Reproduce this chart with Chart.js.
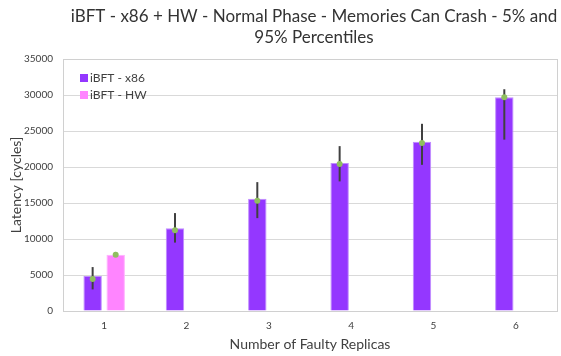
<!DOCTYPE html>
<html>
<head>
<meta charset="utf-8">
<script src="https://cdn.jsdelivr.net/npm/chart.js@4/dist/chart.umd.min.js"></script>
<style>
  html, body { margin: 0; padding: 0; background: #fff; }
  #wrap { width: 561px; height: 356px; }
</style>
</head>
<body>
<div id="wrap"><canvas id="latencyChart" width="561" height="356"></canvas></div>
<script>
// datos
const replicas = ['1', '2', '3', '4', '5', '6'];
const x86Mean = [4850, 11500, 15600, 20550, 23500, 29700];
const x86Low = [3000, 9500, 12900, 18000, 20300, 23800];
const x86High = [6100, 13600, 17900, 22900, 26000, 30800];
const x86Median = [4450, 11200, 15300, 20400, 23350, 29700];
const hwMean = [7800, null, null, null, null, null];
const hwLow = [7700, null, null, null, null, null];
const hwHigh = [8200, null, null, null, null, null];
const hwMedian = [7800, null, null, null, null, null];
const yTicks = [0, 5000, 10000, 15000, 20000, 25000, 30000, 35000];
const titleLines = ['iBFT - x86 + HW - Normal Phase - Memories Can Crash - 5% and', '95% Percentiles'];
const xTitle = 'Number of Faulty Replicas';

const fontName = "Lato, 'Open Sans', sans-serif";

// barras de error + punto verde (mediana)
const errorBarsPlugin = {
    id: 'errorBars',
    afterDatasetsDraw(chart) {
        const ctx = chart.ctx;
        const yScale = chart.scales.y;
        const sets = [
            { low: x86Low, high: x86High, med: x86Median },
            { low: hwLow, high: hwHigh, med: hwMedian }
        ];
        sets.forEach((s, di) => {
            const meta = chart.getDatasetMeta(di);
            meta.data.forEach((bar, i) => {
                if (s.low[i] == null) return;
                const x = bar.x;
                ctx.save();
                ctx.strokeStyle = '#404040';
                ctx.lineWidth = 2;
                ctx.beginPath();
                ctx.moveTo(x, yScale.getPixelForValue(s.high[i]));
                ctx.lineTo(x, yScale.getPixelForValue(s.low[i]));
                ctx.stroke();
                ctx.fillStyle = '#8fbf5f';
                ctx.beginPath();
                ctx.arc(x, yScale.getPixelForValue(s.med[i]), 3, 0, Math.PI * 2);
                ctx.fill();
                ctx.restore();
            });
        });
    }
};

// marco, titulos y leyenda dentro del grafico
const frameLegendPlugin = {
    id: 'frameLegend',
    afterDraw(chart) {
        const ctx = chart.ctx;
        const a = chart.chartArea;
        ctx.save();
        ctx.strokeStyle = '#d0d0d0';
        ctx.lineWidth = 1;
        ctx.strokeRect(Math.round(a.left) + 0.5, Math.round(a.top) + 0.5,
            Math.round(a.right - a.left), Math.round(a.bottom - a.top));

        // titulo centrado sobre el area del grafico
        ctx.fillStyle = '#333333';
        ctx.font = '17px ' + fontName;
        ctx.textAlign = 'center';
        ctx.textBaseline = 'middle';
        const cx = (a.left + a.right) / 2 + 4;
        titleLines.forEach((t, i) => ctx.fillText(t, cx, 17 + i * 21));

        // titulo del eje x
        ctx.fillStyle = '#404040';
        ctx.font = '14px ' + fontName;
        ctx.fillText(xTitle, (a.left + a.right) / 2, a.bottom + 33);

        ctx.textAlign = 'left';
        ctx.font = '12px ' + fontName;
        chart.data.datasets.forEach((ds, i) => {
            const y = 78 + i * 17;
            ctx.fillStyle = ds.backgroundColor;
            ctx.fillRect(80, y - 4, 8, 8);
            ctx.fillStyle = '#404040';
            ctx.fillText(ds.label, 90, y);
        });
        ctx.restore();
    }
};

const ctx = document.getElementById('latencyChart').getContext('2d');
new Chart(ctx, {
    type: 'bar',
    data: {
        labels: replicas,
        datasets: [
            {
                label: 'iBFT - x86',
                data: x86Mean,
                backgroundColor: '#9437ff',
                borderColor: '#c08cff',
                borderWidth: 1
            },
            {
                label: 'iBFT - HW',
                data: hwMean,
                backgroundColor: '#ff85ff',
                borderColor: '#ffb0ff',
                borderWidth: 1
            }
        ]
    },
    options: {
        responsive: false,
        animation: false,
        datasets: {
            bar: { categoryPercentage: 0.56, barPercentage: 0.8 }
        },
        layout: { padding: { left: 4, right: 4, top: 59, bottom: 15 } },
        plugins: {
            legend: { display: false },
            tooltip: { enabled: false },
            title: { display: false }
        },
        scales: {
            x: {
                grid: { display: false, drawTicks: false },
                border: { display: false },
                ticks: { color: '#404040', font: { family: fontName, size: 10 }, padding: 9 },
                title: { display: false }
            },
            y: {
                min: 0,
                max: 35000,
                afterBuildTicks(scale) {
                    scale.ticks = yTicks.map(v => ({ value: v }));
                },
                afterFit(scale) { scale.width = 59; },
                grid: { color: '#d9d9d9', drawTicks: false },
                border: { display: false },
                ticks: {
                    color: '#404040',
                    font: { family: fontName, size: 10 },
                    padding: 10,
                    callback: v => String(v)
                },
                title: {
                    display: true,
                    text: 'Latency [cycles]',
                    color: '#404040',
                    font: { family: fontName, size: 14 },
                    padding: { top: 4, bottom: 4 }
                }
            }
        }
    },
    plugins: [errorBarsPlugin, frameLegendPlugin]
});
</script>
</body>
</html>
